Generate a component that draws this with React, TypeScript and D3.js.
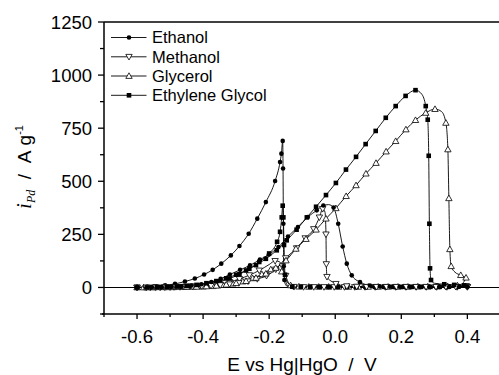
import React from "react";
import * as d3 from "d3";

// ---------- data (E in V vs Hg|HgO, i in A g^-1) ----------
const seriesNames = ["Ethanol", "Methanol", "Glycerol", "Ethylene Glycol"];

const ethanolFwd: [number, number][] = [
  [-0.6, 0], [-0.585, 0], [-0.555, 1], [-0.525, 2], [-0.495, 3], [-0.465, 5], [-0.435, 9], [-0.405, 15],
  [-0.375, 26], [-0.347, 41], [-0.319, 61], [-0.288, 83], [-0.258, 104], [-0.228, 131], [-0.201, 155],
  [-0.172, 190], [-0.143, 240], [-0.113, 285], [-0.083, 332], [-0.056, 363], [-0.036, 386], [-0.02, 390],
  [-0.005, 376], [0.009, 300], [0.0225, 193], [0.035, 112], [0.05, 57], [0.075, 25], [0.105, 9],
  [0.135, 5], [0.165, 4], [0.195, 3], [0.225, 3], [0.255, 3], [0.285, 3], [0.315, 3], [0.345, 3], [0.375, 3], [0.4, 3],
];
const ethanolBwd: [number, number][] = [
  [0.4, 2], [0.372, 2], [0.344, 2], [0.316, 2], [0.288, 2], [0.26, 2], [0.232, 2], [0.204, 2], [0.176, 2],
  [0.148, 2], [0.12, 2], [0.092, 2], [0.064, 2], [0.036, 2], [0.008, 2], [-0.02, 2], [-0.048, 2],
  [-0.076, 2], [-0.104, 2], [-0.13, 2], [-0.14, 3], [-0.145, 5], [-0.15, 12], [-0.154, 35], [-0.156, 100],
  [-0.157, 300], [-0.158, 560], [-0.159, 690], [-0.163, 630], [-0.167, 591], [-0.182, 501], [-0.21, 402],
  [-0.236, 324], [-0.262, 253], [-0.29, 195], [-0.316, 151], [-0.345, 112], [-0.371, 83], [-0.397, 61],
  [-0.425, 42], [-0.455, 28], [-0.485, 17], [-0.515, 10], [-0.545, 5], [-0.575, 2], [-0.6, 1],
];
const methanolFwd: [number, number][] = [
  [-0.6, 0], [-0.572, 0], [-0.544, 1], [-0.516, 1], [-0.488, 2], [-0.46, 3], [-0.432, 4], [-0.404, 6],
  [-0.376, 8], [-0.348, 11], [-0.32, 15], [-0.292, 21], [-0.264, 29], [-0.236, 40], [-0.208, 55],
  [-0.18, 85], [-0.15, 138], [-0.117, 185], [-0.091, 232], [-0.065, 275], [-0.048, 330], [-0.038, 370],
  [-0.031, 355], [-0.028, 250], [-0.027, 110], [-0.025, 50], [-0.018, 36], [-0.008, 26], [0.002, 17],
  [0.015, 10], [0.035, 6], [0.065, 4], [0.095, 3], [0.125, 3], [0.155, 3], [0.185, 3], [0.215, 3],
  [0.245, 3], [0.275, 3], [0.305, 3], [0.335, 3], [0.365, 3], [0.4, 3],
];
const methanolBwd: [number, number][] = [
  [0.4, 2], [0.369, 2], [0.338, 2], [0.307, 2], [0.276, 2], [0.245, 2], [0.214, 2], [0.183, 2],
  [0.152, 2], [0.121, 2], [0.09, 2], [0.059, 2], [0.028, 2], [-0.003, 2], [-0.034, 2], [-0.065, 2],
  [-0.096, 2], [-0.125, 3], [-0.14, 18], [-0.15, 55], [-0.16, 100], [-0.17, 122], [-0.182, 125],
  [-0.2, 108], [-0.23, 80], [-0.26, 58], [-0.29, 40], [-0.32, 26], [-0.35, 16], [-0.38, 10],
  [-0.41, 6], [-0.44, 4], [-0.47, 2], [-0.5, 1], [-0.53, 0], [-0.56, 0], [-0.6, 0],
];
const glycerolFwd: [number, number][] = [
  [-0.6, 0], [-0.57, 0], [-0.54, 1], [-0.51, 1], [-0.48, 2], [-0.45, 2], [-0.42, 3], [-0.39, 5],
  [-0.36, 8], [-0.33, 13], [-0.3, 20], [-0.27, 30], [-0.24, 45], [-0.21, 65], [-0.18, 92], [-0.149, 127],
  [-0.119, 182], [-0.0885, 228], [-0.058, 272], [-0.028, 324], [0.002, 373], [0.033, 430], [0.063, 481],
  [0.093, 536], [0.1235, 586], [0.154, 640], [0.183, 689], [0.214, 744], [0.243, 788], [0.274, 822],
  [0.302, 840], [0.322, 828], [0.335, 775], [0.341, 650], [0.344, 420], [0.347, 180], [0.351, 100],
  [0.3625, 72], [0.38, 58], [0.396, 46],
];
const glycerolBwd: [number, number][] = [
  [0.396, 46], [0.385, 18], [0.37, 9], [0.34, 6], [0.31, 5], [0.28, 4], [0.25, 4], [0.22, 3], [0.19, 3],
  [0.16, 3], [0.13, 3], [0.1, 3], [0.07, 3], [0.04, 3], [0.01, 3], [-0.02, 3], [-0.05, 3], [-0.08, 3],
  [-0.11, 4], [-0.135, 10], [-0.15, 38], [-0.162, 75], [-0.175, 92], [-0.195, 85], [-0.222, 62],
  [-0.25, 43], [-0.28, 28], [-0.31, 18], [-0.34, 11], [-0.37, 6], [-0.4, 4], [-0.43, 3], [-0.46, 2],
  [-0.49, 1], [-0.52, 1], [-0.55, 0], [-0.58, 0], [-0.6, 0],
];
const egFwd: [number, number][] = [
  [-0.6, 0], [-0.57, 0], [-0.54, 1], [-0.51, 2], [-0.48, 4], [-0.45, 7], [-0.42, 12], [-0.39, 20],
  [-0.36, 30], [-0.33, 43], [-0.3, 60], [-0.27, 80], [-0.24, 105], [-0.21, 135], [-0.177, 175],
  [-0.147, 222], [-0.117, 272], [-0.086, 330], [-0.058, 380], [-0.028, 435], [0.002, 492], [0.0325, 555],
  [0.063, 615], [0.092, 675], [0.1225, 737], [0.153, 799], [0.183, 854], [0.213, 902], [0.243, 929],
  [0.262, 910], [0.274, 854], [0.28, 790], [0.283, 620], [0.285, 300], [0.287, 90], [0.29, 35],
  [0.3, 20], [0.33, 15], [0.36, 12], [0.39, 10], [0.4, 10],
];
const egBwd: [number, number][] = [
  [0.4, 9], [0.372, 6], [0.344, 4], [0.316, 3], [0.288, 3], [0.26, 3], [0.232, 3], [0.204, 3],
  [0.176, 3], [0.148, 3], [0.12, 3], [0.092, 3], [0.064, 3], [0.036, 3], [0.008, 3], [-0.02, 3],
  [-0.048, 3], [-0.076, 3], [-0.104, 3], [-0.13, 4], [-0.145, 10], [-0.152, 60], [-0.155, 200],
  [-0.157, 330], [-0.159, 385], [-0.162, 330], [-0.167, 262], [-0.176, 215], [-0.2, 160], [-0.23, 120],
  [-0.26, 88], [-0.29, 62], [-0.32, 42], [-0.35, 28], [-0.38, 18], [-0.41, 11], [-0.44, 7], [-0.47, 4],
  [-0.5, 2], [-0.53, 1], [-0.56, 0], [-0.6, 0],
];

const xMajorTicks = [-0.6, -0.4, -0.2, 0.0, 0.2, 0.4];
const xMinorTicks = [-0.7, -0.5, -0.3, -0.1, 0.1, 0.3, 0.5];
const yMajorTicks = [0, 250, 500, 750, 1000, 1250];
const yMinorTicks = [-125, 125, 375, 625, 875, 1125];

type MarkerKind = "circle" | "triDown" | "triUp" | "square";
const markerKinds: MarkerKind[] = ["circle", "triDown", "triUp", "square"];
const curves: { data: [number, number][]; kind: MarkerKind }[] = [
  { data: methanolBwd, kind: "triDown" },
  { data: glycerolBwd, kind: "triUp" },
  { data: egBwd, kind: "square" },
  { data: ethanolBwd, kind: "circle" },
  { data: methanolFwd, kind: "triDown" },
  { data: glycerolFwd, kind: "triUp" },
  { data: egFwd, kind: "square" },
  { data: ethanolFwd, kind: "circle" },
];

const W = 499;
const H = 375;
const PL = 104;
const PT = 22;
const PB = 314;
const PR = 500.4;
const FONT = "'Liberation Sans', Arial, Helvetica, sans-serif";
const SERIF = "'Liberation Serif', 'Times New Roman', serif";

function Marker({ kind, x, y }: { kind: MarkerKind; x: number; y: number }) {
  if (kind === "circle") return <circle cx={x} cy={y} r={2.3} fill="#000" />;
  if (kind === "square") return <rect x={x - 2.3} y={y - 2.3} width={4.6} height={4.6} fill="#000" />;
  const s = 3.2;
  if (kind === "triUp")
    return (
      <path
        d={`M${x},${y - s}L${x + s},${y + s * 0.75}L${x - s},${y + s * 0.75}Z`}
        fill="#fff"
        stroke="#000"
        strokeWidth={0.8}
      />
    );
  return (
    <path
      d={`M${x},${y + s}L${x + s},${y - s * 0.75}L${x - s},${y - s * 0.75}Z`}
      fill="#fff"
      stroke="#000"
      strokeWidth={0.8}
    />
  );
}

export default function App() {
  const x = d3.scaleLinear().domain([-0.7, 0.5]).range([PL, PR]);
  const y = d3.scaleLinear().domain([-125, 1250]).range([PB, PT]);
  const line = d3
    .line<[number, number]>()
    .x((d) => x(d[0]))
    .y((d) => y(d[1]))
    .curve(d3.curveMonotoneX);

  const markerPoints = (data: [number, number][]) => {
    const out: [number, number][] = [];
    let last = -Infinity;
    let lastY = -Infinity;
    data.forEach((d, i) => {
      const px = x(d[0]);
      const py = y(d[1]);
      if (i === 0 || Math.hypot(px - last, py - lastY) >= 8) {
        out.push(d);
        last = px;
        lastY = py;
      }
    });
    return out;
  };

  const legendY = [37.5, 56.8, 76, 95.3];

  return (
    <svg
      width={W}
      height={H}
      style={{ position: "absolute", left: 0, top: 0, background: "#fff" }}
      fontFamily={FONT}
    >
      <defs>
        <clipPath id="plotClip">
          <rect x={PL} y={PT} width={PR - PL} height={PB - PT} />
        </clipPath>
      </defs>
      <rect x={0} y={0} width={W} height={H} fill="#fff" />

      {/* zero line */}
      <line x1={PL} x2={PR} y1={y(0)} y2={y(0)} stroke="#000" strokeWidth={1.1} />

      {/* curves */}
      <g clipPath="url(#plotClip)">
        {curves.map((c, i) => {
          const sorted = [...c.data].sort((a, b) => a[0] - b[0]);
          return (
            <path key={i} d={line(sorted) || ""} fill="none" stroke="#000" strokeWidth={0.9} />
          );
        })}
        {curves.map((c, i) => (
          <g key={"m" + i}>
            {markerPoints(c.data).map((d, j) => (
              <Marker key={j} kind={c.kind} x={x(d[0])} y={y(d[1])} />
            ))}
          </g>
        ))}
      </g>

      {/* frame */}
      <line x1={PL} x2={PL} y1={PT} y2={PB} stroke="#000" strokeWidth={1.5} />
      <line x1={PL - 2} x2={PR} y1={PB} y2={PB} stroke="#000" strokeWidth={1.5} />
      <line x1={PL} x2={PR} y1={PT} y2={PT} stroke="#000" strokeWidth={1.5} />

      {/* x ticks */}
      {xMajorTicks.map((t) => (
        <g key={"xM" + t}>
          <line x1={x(t)} x2={x(t)} y1={PB} y2={PB + 5} stroke="#000" strokeWidth={1.3} />
          <text x={x(t)} y={343} textAnchor="middle" fontSize={18.5} fill="#000">
            {d3.format(".1f")(t).replace("−", "-")}
          </text>
        </g>
      ))}
      {xMinorTicks.map((t) => (
        <line key={"xm" + t} x1={x(t)} x2={x(t)} y1={PB} y2={PB + 3} stroke="#000" strokeWidth={1.3} />
      ))}

      {/* y ticks */}
      {yMajorTicks.map((t) => (
        <g key={"yM" + t}>
          <line x1={PL - 6} x2={PL} y1={y(t)} y2={y(t)} stroke="#000" strokeWidth={1.3} />
          <text x={92} y={y(t) + 6.5} textAnchor="end" fontSize={18.5} fill="#000">
            {String(t)}
          </text>
        </g>
      ))}
      {yMinorTicks.map((t) => (
        <line key={"ym" + t} x1={PL - 4} x2={PL} y1={y(t)} y2={y(t)} stroke="#000" strokeWidth={1.3} />
      ))}

      {/* legend */}
      {seriesNames.map((name, i) => (
        <g key={name}>
          <line x1={111} x2={146.5} y1={legendY[i]} y2={legendY[i]} stroke="#000" strokeWidth={0.9} />
          <Marker kind={markerKinds[i]} x={129} y={legendY[i]} />
          <text x={152} y={legendY[i] + 5.8} fontSize={16.5} fill="#000">
            {name}
          </text>
        </g>
      ))}

      {/* axis titles */}
      <text x={302} y={371} textAnchor="middle" fontSize={19} fill="#000">
        {"E vs Hg|HgO\u00A0\u00A0/\u00A0\u00A0V"}
      </text>
      <g transform="translate(31,167) rotate(-90)">
        <text textAnchor="middle" fill="#000">
          <tspan fontFamily={SERIF} fontStyle="italic" fontSize={21}>
            i
          </tspan>
          <tspan fontFamily={SERIF} fontStyle="italic" fontSize={12} dy={4}>
            Pd
          </tspan>
          <tspan fontSize={19} dy={-4}>
            {"\u00A0\u00A0/\u00A0\u00A0A\u00A0g"}
          </tspan>
          <tspan fontSize={11} dy={-8}>
            -1
          </tspan>
        </text>
      </g>
    </svg>
  );
}
